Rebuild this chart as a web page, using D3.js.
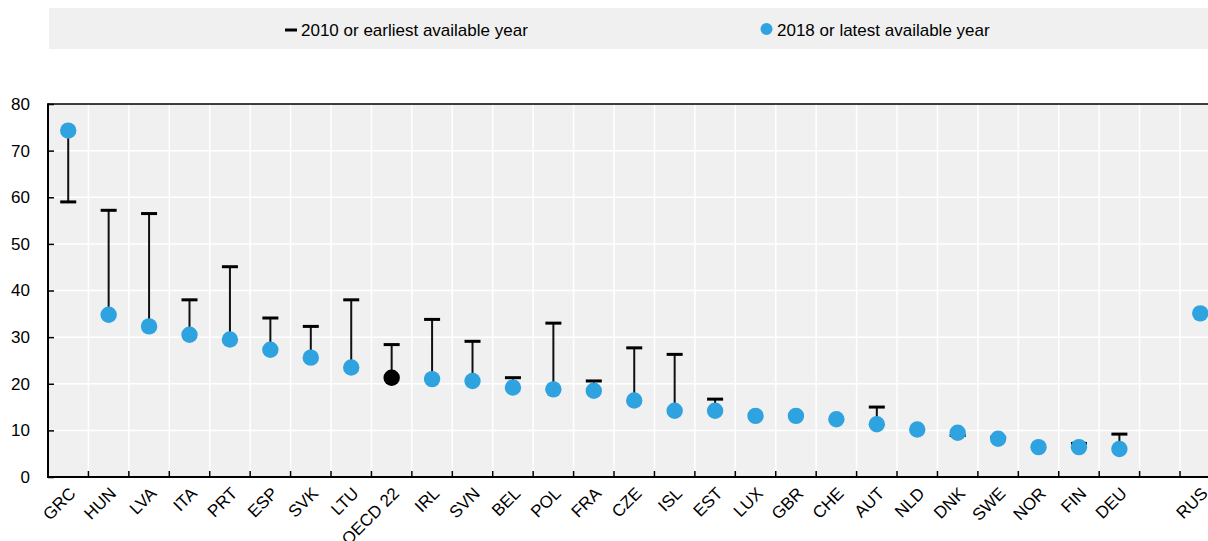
<!DOCTYPE html>
<html><head><meta charset="utf-8">
<script src="https://cdn.jsdelivr.net/npm/d3@7"></script>
<style>
html,body{margin:0;padding:0;background:#fff;}
svg text{font-family:"Liberation Sans",Arial,sans-serif;fill:#000;}
</style></head>
<body><svg id="c" width="1208" height="541"></svg>
<script>
const categories = ["GRC","HUN","LVA","ITA","PRT","ESP","SVK","LTU","OECD 22","IRL","SVN","BEL","POL","FRA","CZE","ISL","EST","LUX","GBR","CHE","AUT","NLD","DNK","SWE","NOR","FIN","DEU","RUS"];
const latest   = [74.3,34.8,32.3,30.5,29.5,27.3,25.6,23.5,21.3,21.0,20.6,19.2,18.8,18.5,16.4,14.2,14.2,13.1,13.1,12.4,11.3,10.2,9.5,8.2,6.4,6.4,6.0,35.1];
const earliest = [59.0,57.2,56.5,38.0,45.1,34.1,32.3,38.0,28.4,33.8,29.1,21.3,33.0,20.6,27.7,26.3,16.7,null,null,null,15.0,null,8.9,8.5,null,7.2,9.2,null];
const yTicks = [0,10,20,30,40,50,60,70,80];
const legendLabels = ["2010 or earliest available year","2018 or latest available year"];

const svg = d3.select("#c");
const L = 48, T = 104, B = 477, step = 40.43;
const domain = categories.slice(0,27).concat(["__gap__"], categories.slice(27));
const R = L + domain.length*step;
const x = d3.scaleBand().domain(domain).range([L,R]).padding(0);
const y = d3.scaleLinear().domain([0,80]).range([B,T]);
const blue = "#2ea3df";

// legend
svg.append("rect").attr("x",49).attr("y",8).attr("width",1159).attr("height",41).attr("fill","#f0f0f0");
svg.append("rect").attr("x",285).attr("y",28.5).attr("width",12).attr("height",3).attr("fill","#000");
svg.append("text").attr("x",301).attr("y",36).attr("font-size",17).text(legendLabels[0]);
svg.append("circle").attr("cx",766.5).attr("cy",29).attr("r",6).attr("fill",blue);
svg.append("text").attr("x",777).attr("y",36).attr("font-size",17).text(legendLabels[1]);

// plot background
svg.append("rect").attr("x",L).attr("y",T).attr("width",R-L).attr("height",B-T).attr("fill","#f0f0f0");
// horizontal grid
svg.append("g").selectAll("line").data(yTicks.filter(d=>d>0&&d<80)).join("line")
  .attr("x1",L).attr("x2",R).attr("y1",d=>y(d)).attr("y2",d=>y(d))
  .attr("stroke","#fff").attr("stroke-width",1.5);
// vertical grid at band boundaries
const bounds = domain.slice(1).map(d=>x(d));
svg.append("g").selectAll("line").data(bounds).join("line")
  .attr("x1",d=>d).attr("x2",d=>d).attr("y1",T).attr("y2",B)
  .attr("stroke","#fff").attr("stroke-width",1.5);

// axes
const yAxis = d3.axisLeft(y).tickValues(yTicks).tickSize(-6).tickPadding(18);
const gy = svg.append("g").attr("transform",`translate(${L},0)`).call(yAxis);
gy.select(".domain").remove();
gy.selectAll(".tick line").attr("stroke","#000").attr("stroke-width",1.5);
gy.selectAll(".tick text").attr("font-size",17).attr("font-family","Liberation Sans, Arial, sans-serif").attr("fill","#000");

const xAxis = d3.axisBottom(x).tickSize(0).tickFormat(d=>d==="__gap__"?"":d);
const gx = svg.append("g").attr("transform",`translate(0,${B})`).call(xAxis);
gx.select(".domain").remove();
gx.selectAll(".tick text").attr("font-size",17).attr("font-family","Liberation Sans, Arial, sans-serif").attr("fill","#000")
  .attr("text-anchor","end").attr("dy",0).attr("y",0)
  .attr("transform","translate(0,9) rotate(-45)")
  .attr("dominant-baseline","hanging");
// boundary ticks (inward)
svg.append("g").selectAll("line").data(bounds).join("line")
  .attr("x1",d=>d).attr("x2",d=>d).attr("y1",B).attr("y2",B-6)
  .attr("stroke","#000").attr("stroke-width",1.5);

svg.append("line").attr("x1",L).attr("x2",R).attr("y1",T).attr("y2",T).attr("stroke","#000").attr("stroke-width",1.5);
svg.append("line").attr("x1",L).attr("x2",L).attr("y1",T-0.75).attr("y2",B+1).attr("stroke","#000").attr("stroke-width",2);
svg.append("line").attr("x1",L-1).attr("x2",R).attr("y1",B).attr("y2",B).attr("stroke","#000").attr("stroke-width",2);

// data
const rows = categories.map((c,i)=>({c, v:latest[i], e:earliest[i]}));
const cx = d => x(d.c) + x.bandwidth()/2;
const withE = rows.filter(d=>d.e!==null);
svg.append("g").selectAll("line").data(withE).join("line")
  .attr("x1",cx).attr("x2",cx).attr("y1",d=>y(d.e)).attr("y2",d=>y(d.v))
  .attr("stroke","#111").attr("stroke-width",2);
svg.append("g").selectAll("rect").data(withE).join("rect")
  .attr("x",d=>cx(d)-8).attr("y",d=>y(d.e)-1.5).attr("width",16).attr("height",3).attr("fill","#000");
svg.append("g").selectAll("circle").data(rows).join("circle")
  .attr("cx",cx).attr("cy",d=>y(d.v)).attr("r",8.2)
  .attr("fill",d=>d.c==="OECD 22"?"#000":blue);
</script></body></html>
